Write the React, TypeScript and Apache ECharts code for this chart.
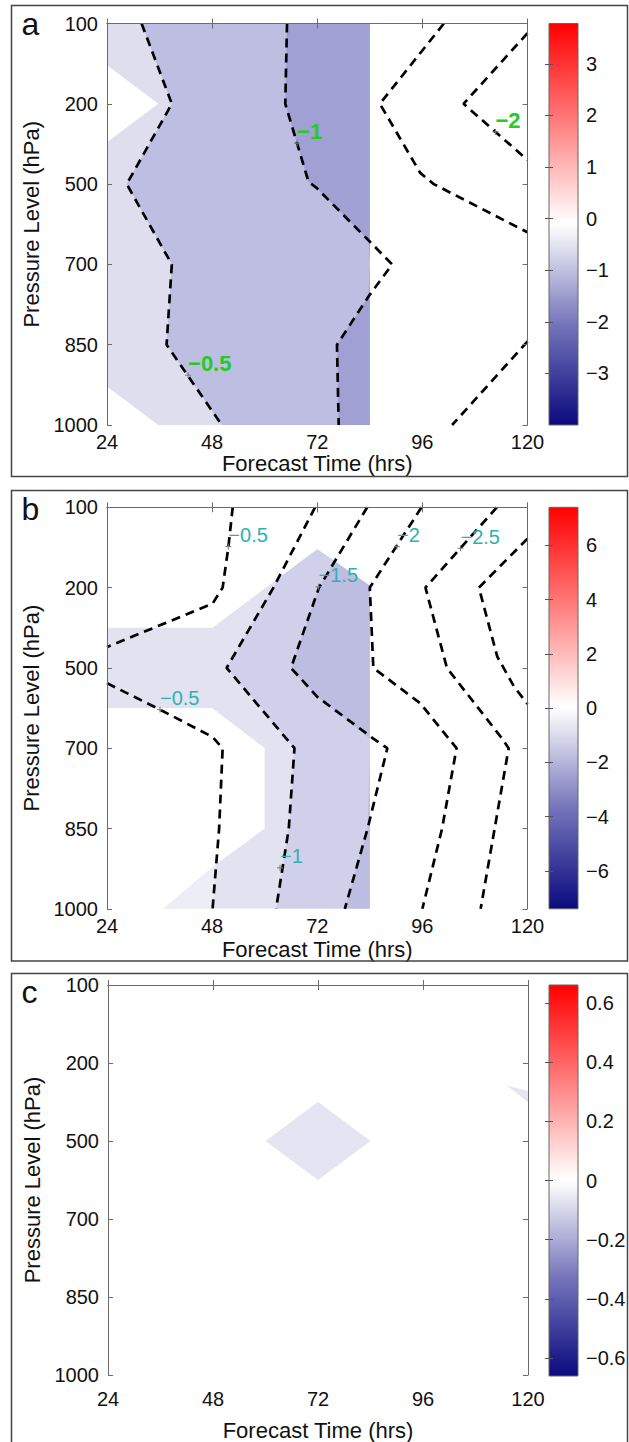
import React, { useEffect, useRef } from 'react';
import * as echarts from 'echarts';

// ---------- axes / ticks ----------
const LEVELS = ['100', '200', '500', '700', '850', '1000'];
const HOUR_TICKS = [24, 48, 72, 96, 120];
const CBAR_A_TICKS = [-3, -2, -1, 0, 1, 2, 3];
const CBAR_B_TICKS = [-6, -4, -2, 0, 2, 4, 6];
const CBAR_C_TICKS = [-0.6, -0.4, -0.2, 0, 0.2, 0.4, 0.6];
const CBAR_A_RANGE = [-4.0, 3.78];
const CBAR_B_RANGE = [-7.4, 7.4];
const CBAR_C_RANGE = [-0.66, 0.66];

// ---------- panel a (hour, pressure-level index) ----------
const A_C05 = [[31.9, 0], [38.8, 1], [28.5, 2], [38.8, 3], [37.6, 4], [50.2, 5]];
const A_C1 = [[65.1, 0], [64.7, 1], [70, 1.97], [71.9, 2.05], [83.7, 2.7], [89.1, 3], [83.7, 3.4], [76.5, 4], [76.9, 5]];
const A_C15 = [[100.9, 0], [86.3, 1], [95.5, 1.86], [98.6, 2], [120, 2.6]];
const A_C2 = [[120, 0.12], [105.4, 1], [120, 1.7]];
const A_C15B = [[120, 3.96], [102.8, 5]];
const A_FILL_LIGHT = [[24, 0], [84, 0], [84, 5], [35.7, 5], [24, 4.52], [24, 1.48], [35.7, 1], [24, 0.52]];
const A_LABEL_PTS = [[42.5, 4.38], [67.4, 1.49], [112.7, 1.35]];
const A_LABEL_TXT = ['−0.5', '−1', '−2'];

// ---------- panel b ----------
const B_C05A = [[52.7, 0], [51.7, 0.5], [50.4, 1], [48.1, 1.2], [24, 1.74]];
const B_C05B = [[24, 2.19], [36.1, 2.52], [48.1, 2.86], [50.4, 3], [49.6, 4], [48.1, 5]];
const B_C1 = [[71.5, 0], [62, 1], [51.3, 2], [66.8, 3], [65.5, 4], [62.6, 5]];
const B_C15 = [[83.4, 0], [72.4, 1], [66, 2], [72, 2.36], [84.8, 2.88], [88, 3], [83.5, 4], [78.3, 5]];
const B_C2 = [[95.8, 0], [84, 1], [84.8, 2], [95.5, 2.44], [103.8, 3], [100.5, 4], [96, 5]];
const B_C25 = [[113, 0], [96.7, 1], [101.6, 2], [114.2, 2.88], [115.7, 3], [112.5, 4], [109.3, 5]];
const B_C3 = [[120, 0.39], [108.9, 1], [113.1, 1.86], [116.9, 2.23], [120, 2.45]];
const B_FILL_LIGHT = [[24, 1.49], [48, 1.49], [72, 0.51], [84, 1], [84, 5], [36.9, 5], [48.3, 4.47], [60, 4], [60, 3], [48, 2.5], [24, 2.5]];
const B_FILL_VLIGHT = [[36.9, 5], [48.3, 4.47], [48.9, 4.47], [48.1, 5]];
const B_MASK_TOP = [[24, 0], [85, 0], [85, 1], [72, 0.51], [48, 1.49], [24, 1.49]];
const B_LABEL_PTS = [[51.7, 0.49], [36.1, 2.52], [72.3, 0.99], [63.5, 4.49], [90.2, 0.49], [104.7, 0.51]];
const B_LABEL_TXT = ['−0.5', '−0.5', '−1.5', '−1', '−2', '−2.5'];

// ---------- panel c ----------
const C_DIAMOND = [[60, 2], [72, 1.5], [84, 2], [72, 2.5]];
const C_SLIVER = [[115.2, 1.29], [120, 1.36], [120, 1.5]];

const FONT = "'Liberation Sans', Arial, Helvetica, sans-serif";
const X_MAX_FILL = 84;

function rightOf(line: number[][], xmax: number) {
  const pts = line.map(([h, l]) => [Math.min(h, xmax), l]);
  return [...pts, [xmax, line[line.length - 1][1]], [xmax, line[0][1]]];
}

function polySeries(pts: number[][], color: string, xi: number, yi: number, stroke = 0) {
  return {
    type: 'custom', xAxisIndex: xi, yAxisIndex: yi, data: [pts[0]], silent: true, clip: true, z: 1,
    renderItem: (_p: any, api: any) => ({
      type: 'polygon',
      shape: { points: pts.map((p) => api.coord(p)) },
      style: stroke > 0 ? { fill: color, stroke: color, lineWidth: stroke } : { fill: color },
    }),
  };
}

function lineSeries(pts: number[][], xi: number, yi: number) {
  return {
    type: 'line', xAxisIndex: xi, yAxisIndex: yi, data: pts, symbol: 'none', silent: true, z: 3,
    lineStyle: { color: '#000', width: 2.7, type: [9, 6] }, clip: true,
  };
}

function labelSeries(pts: number[][], texts: string[], color: string, font: string, xi: number, yi: number) {
  return {
    type: 'custom', xAxisIndex: xi, yAxisIndex: yi, data: pts, silent: true, clip: false, z: 6,
    renderItem: (params: any, api: any) => {
      const p = api.coord([api.value(0), api.value(1)]);
      return {
        type: 'group',
        children: [
          { type: 'line', shape: { x1: p[0] - 3, y1: p[1], x2: p[0] + 3, y2: p[1] }, style: { stroke: '#777', lineWidth: 1 } },
          { type: 'line', shape: { x1: p[0], y1: p[1] - 3, x2: p[0], y2: p[1] + 3 }, style: { stroke: '#777', lineWidth: 1 } },
          {
            type: 'text', x: p[0], y: p[1] - 11.5,
            style: { text: texts[params.dataIndex], fill: color, font, align: 'left', verticalAlign: 'middle', textAlign: 'left', textVerticalAlign: 'middle' },
          },
        ],
      };
    },
  };
}

function cbarSeries(range: number[], xi: number, yi: number) {
  return {
    type: 'custom', xAxisIndex: xi, yAxisIndex: yi, data: [[0, range[0]]], silent: true, clip: false, z: 2,
    renderItem: (_p: any, api: any) => {
      const a = api.coord([0, range[1]]);
      const b = api.coord([1, range[0]]);
      return {
        type: 'rect',
        shape: { x: a[0], y: a[1], width: b[0] - a[0], height: b[1] - a[1] },
        style: {
          fill: new echarts.graphic.LinearGradient(0, 0, 0, 1, [
            { offset: 0, color: '#ff0000' },
            { offset: 0.25, color: '#ff8080' },
            { offset: 0.495, color: '#ffffff' },
            { offset: 0.515, color: '#f8f8fb' },
            { offset: 0.75, color: '#7474bb' },
            { offset: 1, color: '#0a0a7e' },
          ]),
          stroke: '#666', lineWidth: 1,
        },
      };
    },
  };
}

const fmtNum = (v: number) => (v < 0 ? '−' + String(Math.abs(v)) : String(v));

export default function App() {
  const ref = useRef<HTMLDivElement>(null);
  useEffect(() => {
    if (!ref.current) return;
    const chart = echarts.init(ref.current, undefined, { renderer: 'svg' });

    const panels = [
      { top: 23.5, height: 401.5, left: 107, width: 420.5, labelMargin: 7, nameGap: 27, range: CBAR_A_RANGE, ticks: CBAR_A_TICKS, box: [11.5, 5.5, 616, 471], letter: 'a' },
      { top: 507.3, height: 401.5, left: 107, width: 420.5, labelMargin: 7, nameGap: 30, range: CBAR_B_RANGE, ticks: CBAR_B_TICKS, box: [11.5, 490.5, 616, 470.5], letter: 'b' },
      { top: 985, height: 391, left: 108, width: 420, labelMargin: 14, nameGap: 44, range: CBAR_C_RANGE, ticks: CBAR_C_TICKS, box: [11.5, 973.5, 616, 480], letter: 'c' },
    ];

    const grid: any[] = [];
    const xAxis: any[] = [];
    const yAxis: any[] = [];
    const frame = { show: true, lineStyle: { color: '#6a6a6a', width: 1 } };
    const tick = { show: true, inside: true, length: 5, lineStyle: { color: '#6a6a6a' } };

    panels.forEach((p) => {
      grid.push({ left: p.left, top: p.top, width: p.width, height: p.height });
      grid.push({ left: 549, top: p.top, width: 29, height: p.height });
      const g = grid.length - 2;
      xAxis.push({
        type: 'value', gridIndex: g, min: HOUR_TICKS[0], max: HOUR_TICKS[HOUR_TICKS.length - 1], interval: 24, position: 'bottom', z: 5,
        axisLine: frame, axisTick: tick, splitLine: { show: false },
        axisLabel: { fontSize: 20, fontFamily: FONT, color: '#111', margin: p.labelMargin },
        name: 'Forecast Time (hrs)', nameLocation: 'middle', nameGap: p.nameGap,
        nameTextStyle: { fontSize: 22, fontFamily: FONT, color: '#111' },
      });
      xAxis.push({
        type: 'value', gridIndex: g, min: 24, max: 120, interval: 24, position: 'top', z: 5,
        axisLine: frame, axisTick: tick, splitLine: { show: false }, axisLabel: { show: false },
      });
      xAxis.push({ type: 'value', gridIndex: g + 1, min: 0, max: 1, show: false });
      yAxis.push({
        type: 'value', gridIndex: g, min: 0, max: 5, interval: 1, inverse: true, position: 'left', z: 5,
        axisLine: frame, axisTick: tick, splitLine: { show: false },
        axisLabel: { fontSize: 20, fontFamily: FONT, color: '#111', margin: 9, formatter: (v: number) => LEVELS[Math.round(v)] },
        name: 'Pressure Level (hPa)', nameLocation: 'middle', nameGap: 65,
        nameTextStyle: { fontSize: 22, fontFamily: FONT, color: '#111' },
      });
      yAxis.push({
        type: 'value', gridIndex: g, min: 0, max: 5, interval: 1, inverse: true, position: 'right', z: 5,
        axisLine: frame, axisTick: tick, splitLine: { show: false }, axisLabel: { show: false },
      });
      yAxis.push({
        type: 'value', gridIndex: g + 1, min: p.range[0], max: p.range[1], position: 'right', z: 5,
        axisLine: { show: false }, splitLine: { show: false },
        axisTick: { show: true, inside: true, length: 4, lineStyle: { color: '#555' }, customValues: p.ticks },
        axisLabel: { fontSize: 20, fontFamily: FONT, color: '#111', margin: 8, customValues: p.ticks, formatter: fmtNum },
      });
      yAxis.push({
        type: 'value', gridIndex: g + 1, min: p.range[0], max: p.range[1], position: 'left', z: 5,
        axisLine: { show: false }, splitLine: { show: false }, axisLabel: { show: false },
        axisTick: { show: true, inside: true, length: 4, lineStyle: { color: '#555' }, customValues: p.ticks },
      });
    });

    const series: any[] = [];
    // panel a
    series.push(polySeries(A_FILL_LIGHT, '#dedeef', 0, 0));
    series.push(polySeries(rightOf(A_C05, X_MAX_FILL), '#bebee3', 0, 0));
    series.push(polySeries(rightOf(A_C1, X_MAX_FILL), '#a0a0d5', 0, 0));
    [A_C05, A_C1, A_C15, A_C2, A_C15B].forEach((l) => series.push(lineSeries(l, 0, 0)));
    series.push(labelSeries(A_LABEL_PTS, A_LABEL_TXT, '#22cc22', `bold 22px ${FONT}`, 0, 0));
    series.push(cbarSeries(CBAR_A_RANGE, 2, 2));
    // panel b
    series.push(polySeries(B_FILL_LIGHT, '#e2e2f1', 3, 4));
    series.push(polySeries(B_FILL_VLIGHT, '#ededf6', 3, 4));
    series.push(polySeries(rightOf(B_C1, X_MAX_FILL), '#d0d0ea', 3, 4));
    series.push(polySeries(rightOf(B_C15, X_MAX_FILL), '#bdbde2', 3, 4));
    series.push(polySeries(B_MASK_TOP, '#ffffff', 3, 4, 1.5));
    [B_C05A, B_C05B, B_C1, B_C15, B_C2, B_C25, B_C3].forEach((l) => series.push(lineSeries(l, 3, 4)));
    series.push(labelSeries(B_LABEL_PTS, B_LABEL_TXT, '#30b0b0', `20px ${FONT}`, 3, 4));
    series.push(cbarSeries(CBAR_B_RANGE, 5, 6));
    // panel c
    series.push(polySeries(C_DIAMOND, '#e4e4f2', 6, 8));
    series.push(polySeries(C_SLIVER, '#e4e4f2', 6, 8));
    series.push(cbarSeries(CBAR_C_RANGE, 8, 10));

    const graphic: any[] = [];
    panels.forEach((p) => {
      graphic.push({
        type: 'rect', silent: true, z: 10,
        shape: { x: p.box[0], y: p.box[1], width: p.box[2], height: p.box[3] },
        style: { fill: 'none', stroke: '#444', lineWidth: 1.5 },
      });
      graphic.push({
        type: 'text', silent: true, z: 10, x: 21.5, y: p.box[1] + 18.5,
        style: { text: p.letter, font: `32px ${FONT}`, fill: '#111', verticalAlign: 'middle', textVerticalAlign: 'middle' },
      });
    });

    chart.setOption({
      animation: false,
      backgroundColor: '#ffffff',
      grid, xAxis, yAxis, series, graphic,
    });
    return () => chart.dispose();
  }, []);

  return <div ref={ref} style={{ position: 'absolute', left: 0, top: 0, width: 629, height: 1442, background: '#fff' }} />;
}
